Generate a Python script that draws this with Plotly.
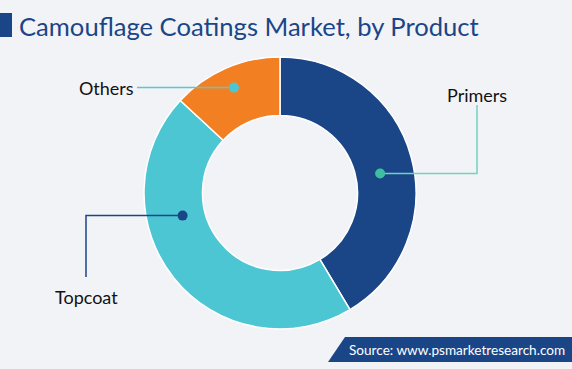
import math
import plotly.graph_objects as go

# ---- data ----
categories = ["Primers", "Topcoat", "Others"]
shares = [41.4, 45.5, 13.1]
colors = ["#1a4688", "#4dc6d4", "#f28023"]

title_text = "Camouflage Coatings Market, by Product"
source_text = "Source: www.psmarketresearch.com"

W, H = 572, 369
BG = "#f2f3f7"

# pie geometry (pixels)
CX, CY, R = 280, 193, 136
HOLE = 0.57


def px(x):
    return x / W


def py(y):
    return 1 - y / H


fig = go.Figure()
fig.add_trace(go.Pie(
    labels=categories,
    values=shares,
    sort=False,
    direction="clockwise",
    rotation=0,
    hole=HOLE,
    marker=dict(colors=colors, line=dict(color="white", width=1.5)),
    textinfo="none",
    hoverinfo="label+percent",
    showlegend=False,
    domain=dict(x=[px(CX - R), px(CX + R)], y=[py(CY + R), py(CY - R)]),
))

# compute slice mid-angles (clockwise from 12 o'clock) from data
total = sum(shares)
starts = []
acc = 0
for v in shares:
    starts.append(acc)
    acc += v
mid_deg = [(s + v / 2) / total * 360 for s, v in zip(starts, shares)]


def point(angle_deg, rad):
    a = math.radians(angle_deg)
    return CX + rad * math.sin(a), CY - rad * math.cos(a)


shapes = []
annotations = []
LABEL_FONT = dict(family="Lato, sans-serif", size=18, color="#111111")

# Primers
x0, y0 = point(mid_deg[0] + 4.5, 102)
elbow_x = 477
shapes.append(dict(type="path", xref="paper", yref="paper",
                   path=f"M {px(x0)},{py(y0)} L {px(elbow_x)},{py(y0)} L {px(elbow_x)},{py(105)}",
                   line=dict(color="#6fd3c0", width=1.5)))
shapes.append(dict(type="circle", xref="paper", yref="paper",
                   x0=px(x0 - 5), x1=px(x0 + 5), y0=py(y0 + 5), y1=py(y0 - 5),
                   fillcolor="#3dbfa0", line=dict(width=0)))
annotations.append(dict(x=px(elbow_x), y=py(95), xref="paper", yref="paper",
                        text="Primers", showarrow=False, xanchor="center", yanchor="middle",
                        font=LABEL_FONT))

# Topcoat
x1, y1 = point(mid_deg[1] + 26, 100)
elbow_x2 = 86
shapes.append(dict(type="path", xref="paper", yref="paper",
                   path=f"M {px(x1)},{py(y1)} L {px(elbow_x2)},{py(y1)} L {px(elbow_x2)},{py(277)}",
                   line=dict(color="#1a4688", width=1.5)))
shapes.append(dict(type="circle", xref="paper", yref="paper",
                   x0=px(x1 - 5), x1=px(x1 + 5), y0=py(y1 + 5), y1=py(y1 - 5),
                   fillcolor="#1a4688", line=dict(width=0)))
annotations.append(dict(x=px(elbow_x2), y=py(297), xref="paper", yref="paper",
                        text="Topcoat", showarrow=False, xanchor="center", yanchor="middle",
                        font=LABEL_FONT))

# Others
x2, y2 = point(mid_deg[2], 115)
shapes.append(dict(type="line", xref="paper", yref="paper",
                   x0=px(x2), y0=py(y2), x1=px(137), y1=py(y2),
                   line=dict(color="#5bc8d0", width=1.5)))
shapes.append(dict(type="circle", xref="paper", yref="paper",
                   x0=px(x2 - 5), x1=px(x2 + 5), y0=py(y2 + 5), y1=py(y2 - 5),
                   fillcolor="#4dc6d4", line=dict(width=0)))
annotations.append(dict(x=px(136), y=py(y2), xref="paper", yref="paper",
                        text="Others", showarrow=False, xanchor="right", yanchor="middle",
                        font=LABEL_FONT))

# title block
shapes.append(dict(type="rect", xref="paper", yref="paper",
                   x0=0, x1=px(12), y0=py(37), y1=py(13),
                   fillcolor="#1a4688", line=dict(width=0)))
annotations.append(dict(x=px(17), y=py(26), xref="paper", yref="paper",
                        text=title_text, showarrow=False, xanchor="left", yanchor="middle",
                        font=dict(family="Lato, sans-serif", size=25.6, color="#1a4688")))

# source box
shapes.append(dict(type="path", xref="paper", yref="paper",
                   path=f"M {px(328)},{py(362)} L {px(345)},{py(337)} L 1,{py(337)} L 1,{py(362)} Z",
                   fillcolor="#1a4688", line=dict(width=0)))
annotations.append(dict(x=px(347), y=py(350), xref="paper", yref="paper",
                        text=source_text, showarrow=False, xanchor="left", yanchor="middle",
                        font=dict(family="Lato, sans-serif", size=13.6, color="white")))

fig.update_layout(
    width=W, height=H,
    margin=dict(l=0, r=0, t=0, b=0),
    paper_bgcolor=BG, plot_bgcolor=BG,
    shapes=shapes, annotations=annotations,
)

fig.write_html(
    "out.html",
    config={"displayModeBar": False},
    post_script="document.body.style.margin='0';document.body.style.overflow='hidden';document.body.style.background='#f2f3f7';",
)
